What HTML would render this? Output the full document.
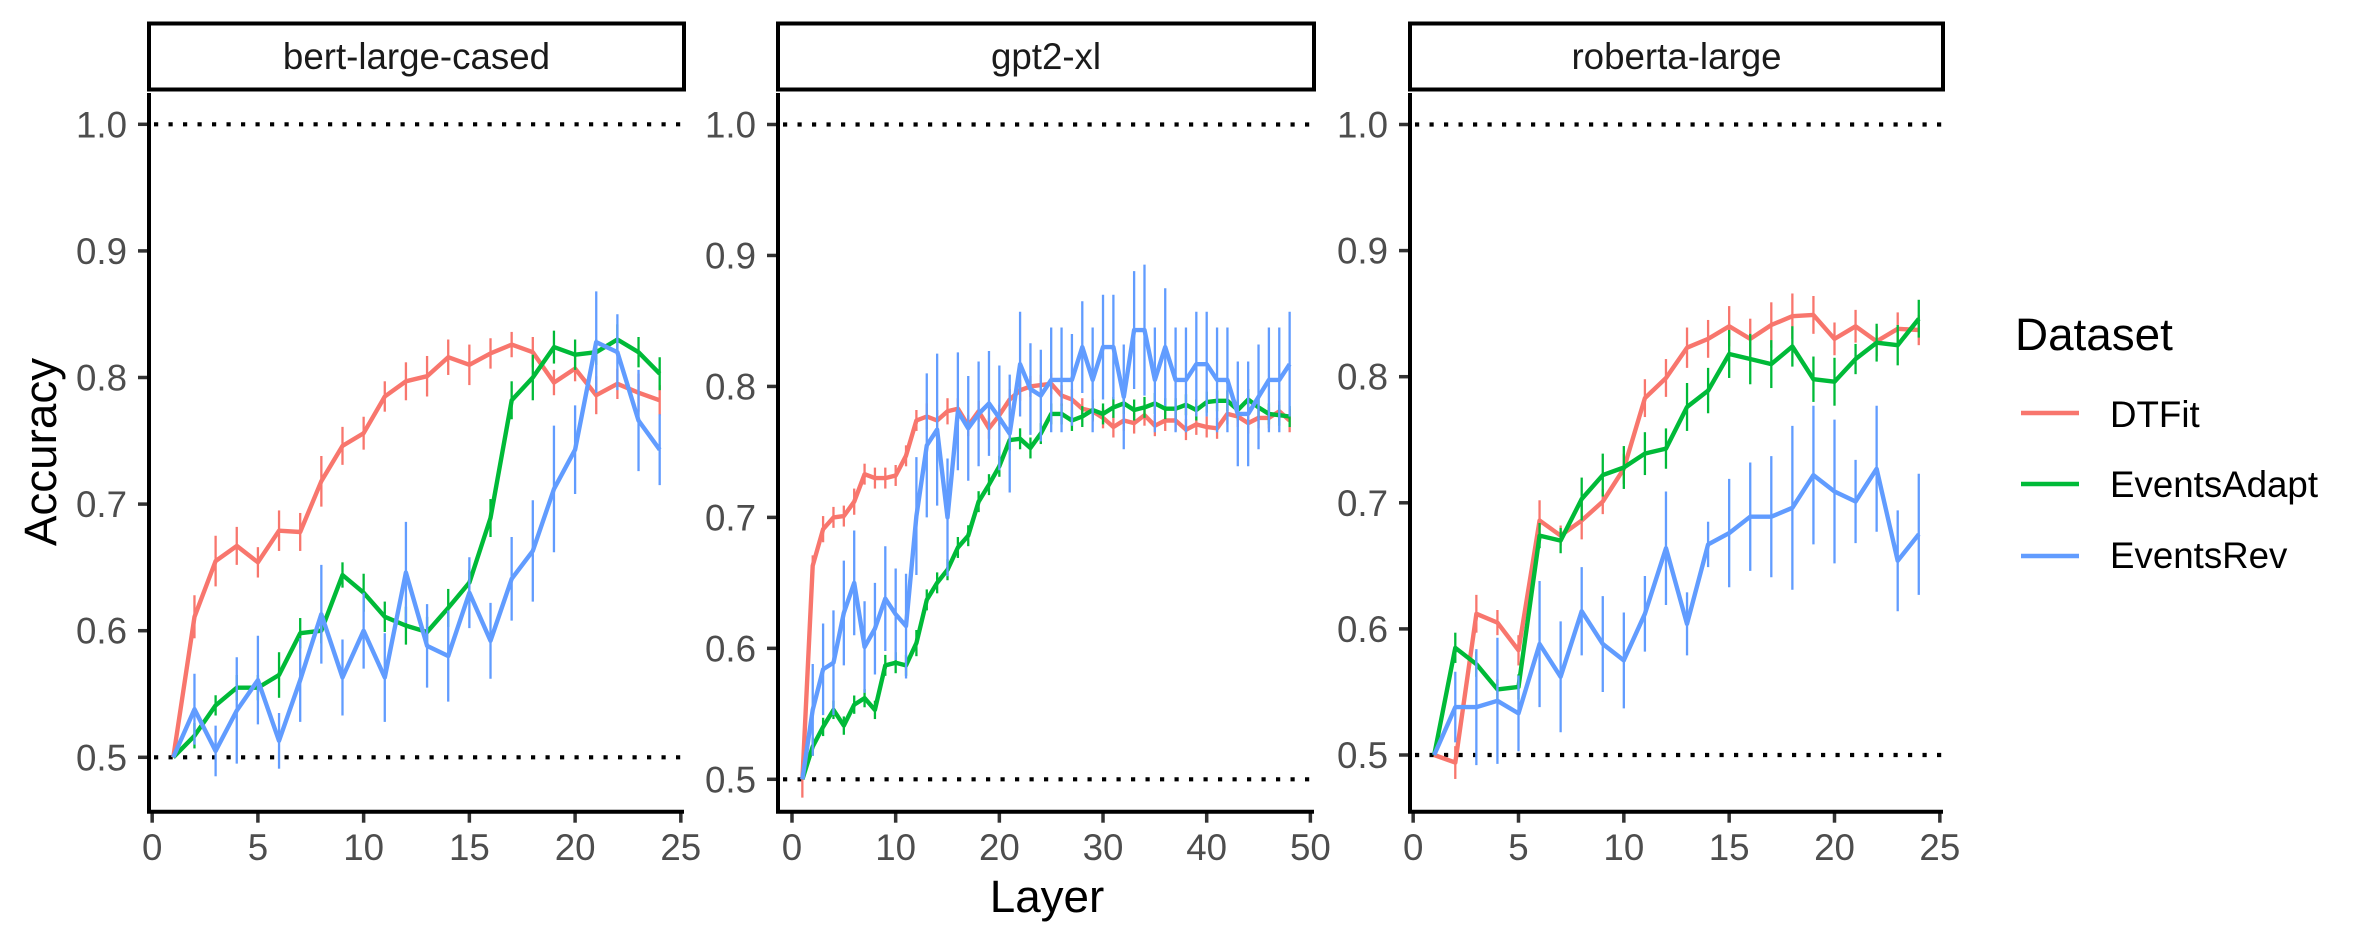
<!DOCTYPE html>
<html><head><meta charset="utf-8"><style>
html,body{margin:0;padding:0;background:#fff;}
svg{display:block;font-family:"Liberation Sans",Arial,sans-serif;}
</style></head><body>
<svg id="chart" width="2362" height="944" viewBox="0 0 2362 944" xmlns="http://www.w3.org/2000/svg">
<text transform="translate(56,452) rotate(-90)" text-anchor="middle" font-size="45.8" fill="#000">Accuracy</text>
<text x="1047" y="912" text-anchor="middle" font-size="45.8" fill="#000">Layer</text>
<g>
<text x="2015" y="350" font-size="45.8" fill="#000">Dataset</text>
<line x1="2021" x2="2079" y1="413" y2="413" stroke="#F8766D" stroke-width="4.5"/>
<text x="2110" y="427" font-size="36.7" fill="#000">DTFit</text>
<line x1="2021" x2="2079" y1="484" y2="484" stroke="#00BA38" stroke-width="4.5"/>
<text x="2110" y="497" font-size="36.7" fill="#000">EventsAdapt</text>
<line x1="2021" x2="2079" y1="556" y2="556" stroke="#619CFF" stroke-width="4.5"/>
<text x="2110" y="568" font-size="36.7" fill="#000">EventsRev</text>
</g>
</svg>
<script>
const panelNames = ["bert-large-cased","gpt2-xl","roberta-large"];
const yTicks = [0.5,0.6,0.7,0.8,0.9,1.0];
const yTickLabels = ["0.5","0.6","0.7","0.8","0.9","1.0"];
const xTicksSmall = [0,5,10,15,20,25];
const xTicksLarge = [0,10,20,30,40,50];
const refLines = [0.5,1.0];

const bertDT = [0.5,0.611,0.655,0.667,0.654,0.679,0.678,0.718,0.746,0.756,0.785,0.797,0.801,0.816,0.810,0.819,0.826,0.820,0.796,0.807,0.786,0.795,0.788,0.782];
const bertDTErr = [0,0.017,0.02,0.015,0.012,0.016,0.015,0.02,0.015,0.013,0.012,0.015,0.016,0.014,0.016,0.012,0.01,0.012,0.01,0.01,0.015,0.012,0.015,0.012];
const bertEA = [0.5,0.517,0.541,0.555,0.555,0.565,0.598,0.600,0.644,0.630,0.611,0.604,0.599,0.618,0.638,0.689,0.782,0.800,0.824,0.818,0.820,0.830,0.820,0.803];
const bertEAErr = [0,0.01,0.008,0.01,0.01,0.018,0.012,0.01,0.01,0.015,0.012,0.015,0.012,0.015,0.01,0.015,0.015,0.018,0.013,0.012,0.01,0.012,0.012,0.013];
const bertER = [0.5,0.538,0.505,0.537,0.561,0.513,0.561,0.613,0.563,0.600,0.563,0.646,0.588,0.580,0.630,0.592,0.641,0.663,0.712,0.743,0.828,0.820,0.766,0.743];
const bertERErr = [0,0.028,0.02,0.042,0.035,0.022,0.033,0.039,0.03,0.03,0.035,0.04,0.033,0.036,0.028,0.03,0.033,0.04,0.05,0.035,0.04,0.03,0.04,0.028];

const gptDT = [0.5,0.663,0.691,0.700,0.701,0.712,0.733,0.730,0.730,0.732,0.747,0.774,0.777,0.774,0.781,0.783,0.770,0.781,0.768,0.778,0.790,0.797,0.800,0.801,0.802,0.793,0.790,0.783,0.781,0.776,0.769,0.774,0.772,0.778,0.770,0.774,0.774,0.767,0.771,0.769,0.768,0.779,0.777,0.772,0.776,0.776,0.781,0.774];
const gptDTErr = [0.014,0.008,0.01,0.008,0.008,0.01,0.008,0.008,0.008,0.008,0.008,0.008,0.01,0.008,0.01,0.008,0.008,0.008,0.008,0.008,0.008,0.008,0.008,0.008,0.008,0.008,0.008,0.008,0.008,0.008,0.008,0.008,0.008,0.008,0.008,0.008,0.008,0.008,0.008,0.008,0.008,0.008,0.008,0.008,0.008,0.008,0.008,0.009];
const gptEA = [0.5,0.525,0.540,0.553,0.541,0.557,0.562,0.553,0.587,0.589,0.587,0.604,0.637,0.650,0.660,0.677,0.686,0.712,0.725,0.739,0.759,0.760,0.753,0.764,0.779,0.779,0.774,0.777,0.782,0.779,0.784,0.787,0.782,0.784,0.787,0.783,0.783,0.786,0.782,0.788,0.789,0.789,0.782,0.790,0.784,0.779,0.778,0.777];
const gptEAErr = [0,0.007,0.007,0.007,0.007,0.007,0.007,0.007,0.008,0.008,0.008,0.01,0.008,0.008,0.008,0.008,0.008,0.008,0.008,0.008,0.008,0.008,0.008,0.008,0.008,0.008,0.008,0.008,0.008,0.008,0.008,0.008,0.008,0.008,0.008,0.008,0.008,0.008,0.008,0.008,0.008,0.008,0.008,0.008,0.008,0.008,0.008,0.008];
const gptER = [0.5,0.553,0.584,0.589,0.627,0.650,0.601,0.615,0.638,0.626,0.617,0.701,0.755,0.767,0.700,0.781,0.768,0.779,0.787,0.776,0.764,0.817,0.798,0.793,0.805,0.805,0.805,0.830,0.805,0.830,0.830,0.792,0.843,0.843,0.805,0.830,0.805,0.805,0.817,0.817,0.805,0.805,0.779,0.779,0.792,0.805,0.805,0.817];
const gptERErr = [0,0.035,0.035,0.04,0.04,0.04,0.035,0.035,0.04,0.035,0.04,0.045,0.055,0.058,0.045,0.045,0.04,0.04,0.04,0.04,0.045,0.04,0.035,0.035,0.04,0.04,0.035,0.035,0.04,0.04,0.04,0.04,0.045,0.05,0.04,0.045,0.04,0.04,0.04,0.04,0.04,0.04,0.04,0.04,0.04,0.04,0.04,0.04];

const robDT = [0.5,0.494,0.612,0.605,0.583,0.686,0.674,0.686,0.701,0.727,0.783,0.799,0.823,0.830,0.840,0.830,0.841,0.848,0.849,0.830,0.840,0.828,0.838,0.837];
const robDTErr = [0,0.013,0.015,0.01,0.012,0.016,0.008,0.015,0.01,0.012,0.015,0.015,0.016,0.015,0.016,0.016,0.018,0.018,0.015,0.013,0.013,0.012,0.013,0.012];
const robEA = [0.5,0.585,0.572,0.552,0.554,0.674,0.670,0.703,0.722,0.728,0.739,0.743,0.776,0.789,0.818,0.814,0.810,0.824,0.798,0.796,0.814,0.827,0.825,0.846];
const robEAErr = [0,0.012,0.01,0.008,0.01,0.01,0.01,0.017,0.017,0.017,0.017,0.016,0.019,0.018,0.019,0.02,0.019,0.016,0.018,0.019,0.012,0.015,0.016,0.015];
const robER = [0.5,0.538,0.538,0.543,0.533,0.588,0.562,0.614,0.588,0.575,0.612,0.664,0.604,0.667,0.676,0.689,0.689,0.696,0.722,0.709,0.701,0.727,0.654,0.675];
const robERErr = [0,0.028,0.046,0.05,0.03,0.05,0.044,0.035,0.038,0.038,0.03,0.045,0.025,0.018,0.043,0.043,0.048,0.065,0.055,0.057,0.033,0.05,0.04,0.048];

const colors = {DTFit:"#F8766D", EventsAdapt:"#00BA38", EventsRev:"#619CFF"};
const NS = "http://www.w3.org/2000/svg";
const svg = document.getElementById("chart");

const panels = [
  {name:panelNames[0], x0:149, x1:684, xmin:-0.15, xmax:25.15, y1:124.3, y05:757.3, ticks:xTicksSmall,
   series:[["DTFit",bertDT,bertDTErr],["EventsAdapt",bertEA,bertEAErr],["EventsRev",bertER,bertERErr]]},
  {name:panelNames[1], x0:778, x1:1314, xmin:-1.35, xmax:50.35, y1:124.5, y05:779.3, ticks:xTicksLarge,
   series:[["DTFit",gptDT,gptDTErr],["EventsAdapt",gptEA,gptEAErr],["EventsRev",gptER,gptERErr]]},
  {name:panelNames[2], x0:1410, x1:1943, xmin:-0.15, xmax:25.15, y1:124.5, y05:755, ticks:xTicksSmall,
   series:[["DTFit",robDT,robDTErr],["EventsAdapt",robEA,robEAErr],["EventsRev",robER,robERErr]]}
];

function mk(tag, attrs, parent){
  const e = document.createElementNS(NS, tag);
  for (const k in attrs) e.setAttribute(k, attrs[k]);
  (parent||svg).appendChild(e);
  return e;
}

panels.forEach((p, pi) => {
  const xs = v => p.x0 + (v - p.xmin) / (p.xmax - p.xmin) * (p.x1 - p.x0);
  const ys = v => p.y05 + (v - 0.5) / 0.5 * (p.y1 - p.y05);
  const top = 93, bottom = 811.7;
  const g = mk("g", {});
  
  

  const strip = mk("rect", {x:p.x0, y:23.5, width:p.x1-p.x0, height:66, fill:"#fff", stroke:"#000", "stroke-width":4}, g);
  
  
  const st = mk("text", {x:(p.x0+p.x1)/2, y:69, "text-anchor":"middle", "font-size":36.7, fill:"#1a1a1a"}, g);
  
  
  st.textContent = p.name;

  refLines.forEach(r => {
    const l = mk("line", {x1:p.x0+5, x2:p.x1, y1:ys(r), y2:ys(r), stroke:"#000", "stroke-width":4.2, "stroke-dasharray":"4.2 10.3"}, g);
    
    
  });

  yTicks.forEach((t, i) => {
    const tk = mk("line", {x1:p.x0-11, x2:p.x0, y1:ys(t), y2:ys(t), stroke:"#333", "stroke-width":3.5}, g);
    
    
    const lb = mk("text", {x:p.x0-22, y:ys(t)+13, "text-anchor":"end", "font-size":36.7, fill:"#4d4d4d"}, g);
    
    
    lb.textContent = yTickLabels[i];
  });
  p.ticks.forEach(t => {
    const tk = mk("line", {x1:xs(t), x2:xs(t), y1:bottom, y2:bottom+11, stroke:"#333", "stroke-width":3.5}, g);
    
    
    const lb = mk("text", {x:xs(t), y:860, "text-anchor":"middle", "font-size":36.7, fill:"#4d4d4d"}, g);
    
    
    lb.textContent = String(t);
  });

  p.series.forEach(([sname, vals, errs]) => {
    const col = colors[sname];
    const sg = mk("g", {}, g);
    
    
    vals.forEach((v, i) => {
      if (!errs[i]) return;
      const eb = mk("line", {x1:xs(i+1), x2:xs(i+1), y1:ys(v-errs[i]), y2:ys(v+errs[i]), stroke:col, "stroke-width":2.3}, sg);
      
      
    });
    const pts = vals.map((v, i) => xs(i+1).toFixed(1) + "," + ys(v).toFixed(1)).join(" ");
    const pl = mk("polyline", {points:pts, fill:"none", stroke:col, "stroke-width":4.4, "stroke-linejoin":"round"}, sg);
    
    
  });

  const ax = mk("path", {d:`M${p.x0},${top} L${p.x0},${bottom} L${p.x1},${bottom}`, fill:"none", stroke:"#000", "stroke-width":4}, g);
  
  
});
</script>
</body></html>
